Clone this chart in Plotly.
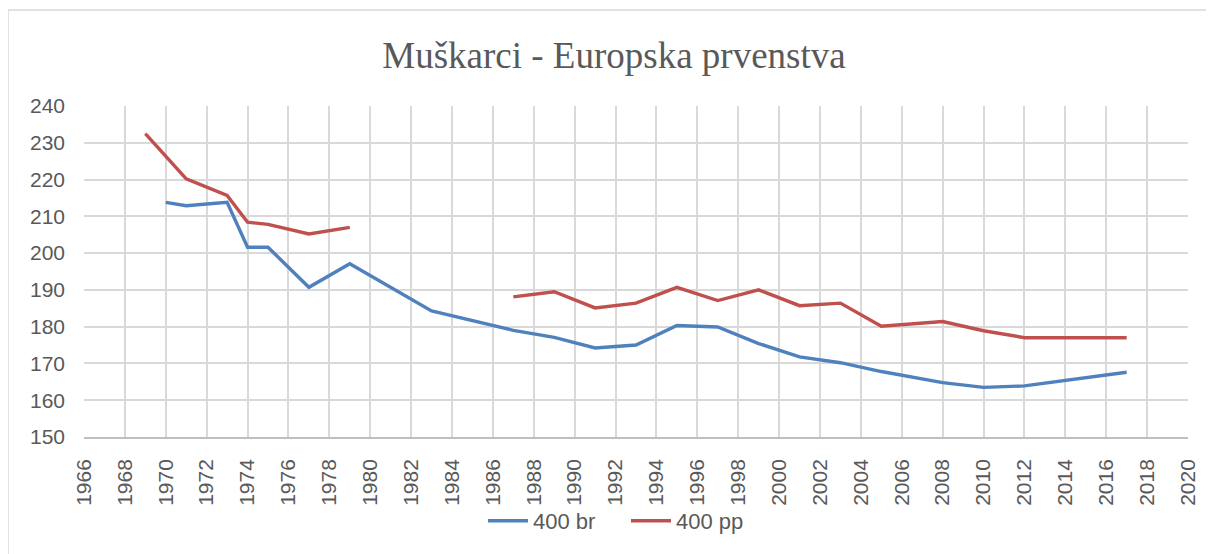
import plotly.graph_objects as go

# Data
years_br = [1970, 1971, 1973, 1974, 1975, 1977, 1979, 1983, 1987, 1989, 1991, 1993,
            1995, 1997, 1999, 2001, 2003, 2005, 2008, 2010, 2012, 2017]
values_br = [213.8, 212.9, 213.8, 201.6, 201.6, 190.7, 197.1, 184.3, 179.0, 177.1, 174.2, 175.0,
             180.3, 179.9, 175.4, 171.8, 170.2, 167.8, 164.8, 163.5, 163.9, 167.6]

years_pp = [1969, 1971, 1973, 1974, 1975, 1977, 1979, 1983, 1987, 1989, 1991, 1993,
            1995, 1997, 1999, 2001, 2003, 2005, 2008, 2010, 2012, 2017]
values_pp = [232.5, 220.2, 215.7, 208.4, 207.8, 205.2, 207.0, None, 188.1, 189.5, 185.1, 186.4,
             190.7, 187.1, 190.0, 185.7, 186.4, 180.1, 181.4, 178.9, 177.0, 177.0]

x_ticks = list(range(1966, 2021, 2))
y_ticks = list(range(150, 241, 10))

title_text = "Muškarci - Europska prvenstva"
name_br = "400 br"
name_pp = "400 pp"

fig = go.Figure()
fig.add_trace(go.Scatter(x=years_br, y=values_br, mode="lines", name=name_br,
                         line=dict(color="#4F81BD", width=3.4), connectgaps=False))
fig.add_trace(go.Scatter(x=years_pp, y=values_pp, mode="lines", name=name_pp,
                         line=dict(color="#C0504D", width=3.4), connectgaps=False))

# page body margin offset (8px) compensation
OFF = 8
W, H = 1214 - OFF, 554 - OFF
L, R, T, B = 84 - OFF, 1188 - OFF, 106 - OFF, 437 - OFF
pw, ph = R - L, B - T


def px(xp):
    return (xp - OFF - L) / pw


def py(yp):
    return (B - (yp - OFF)) / ph


fig.update_layout(
    width=W, height=H,
    margin=dict(l=L, r=W - R, t=T, b=H - B),
    paper_bgcolor="white", plot_bgcolor="white",
    title=dict(text=title_text, x=(614 - OFF) / W, xanchor="center",
               y=1 - (55 - OFF) / H, yanchor="middle",
               font=dict(family="Liberation Serif", size=37, color="#595959")),
    font=dict(family="Liberation Sans", color="#595959"),
    showlegend=True,
    legend=dict(orientation="h", x=px(626), xanchor="center", y=py(521), yanchor="middle",
                font=dict(size=22, color="#595959"), bgcolor="rgba(0,0,0,0)",
                itemwidth=40, entrywidth=88, entrywidthmode="pixels"),
    shapes=[dict(type="rect", xref="paper", yref="paper",
                 x0=px(8), x1=px(1260), y0=py(600), y1=py(10),
                 line=dict(color="#D9D9D9", width=1.5), layer="below")],
)

fig.update_xaxes(range=[1966, 2020], tickmode="array", tickvals=x_ticks,
                 ticktext=[str(v) for v in x_ticks], tickangle=-90,
                 showgrid=True, gridcolor="#D9D9D9", gridwidth=1.5,
                 showline=True, linecolor="#BFBFBF", linewidth=1.5,
                 zeroline=False, ticks="", ticklabelstandoff=12,
                 tickfont=dict(size=21, color="#595959"))
fig.update_yaxes(range=[150, 240], tickmode="array", tickvals=y_ticks,
                 showgrid=True, gridcolor="#D9D9D9", gridwidth=1.5,
                 showline=False, zeroline=False, ticks="", ticklabelstandoff=18,
                 tickfont=dict(size=21, color="#595959"))

fig.write_html("out.html")
